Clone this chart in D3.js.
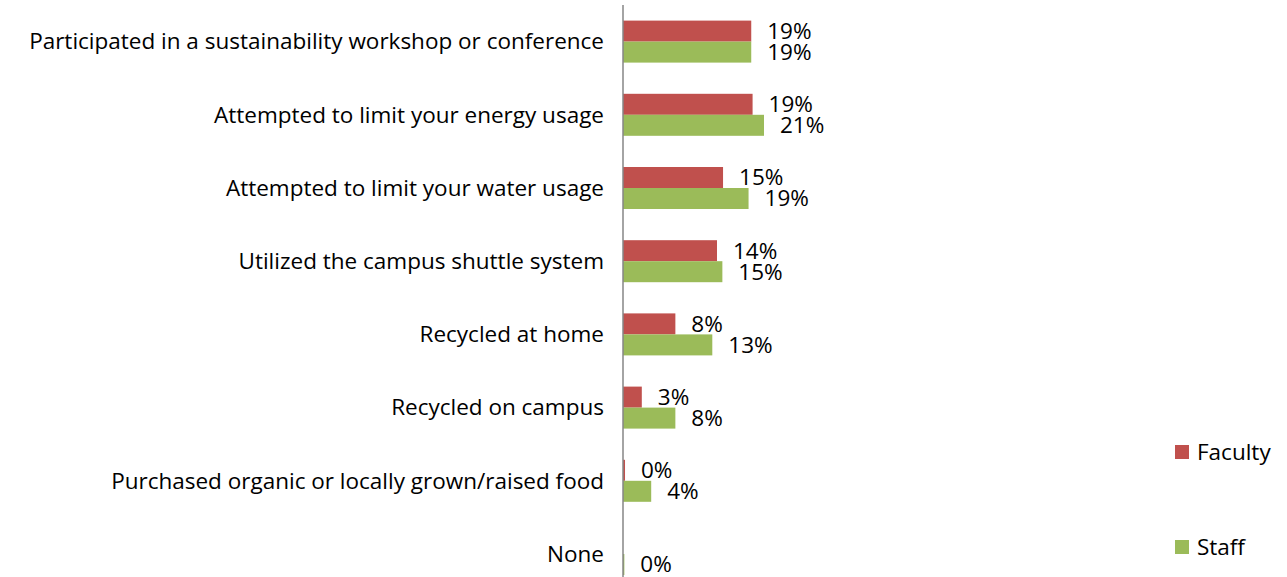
<!DOCTYPE html>
<html>
<head>
<meta charset="utf-8">
<script src="https://cdn.jsdelivr.net/npm/d3@7"></script>
<style>
  body { margin: 0; background: #fff; }
  text { font-family: "Open Sans", sans-serif; fill: #000; }
</style>
</head>
<body>
<div id="chart"></div>
<script>
var width = 1287,
    height = 577;

// categories, top to bottom
var categories = [
  "Participated in a sustainability workshop or conference",
  "Attempted to limit your energy usage",
  "Attempted to limit your water usage",
  "Utilized the campus shuttle system",
  "Recycled at home",
  "Recycled on campus",
  "Purchased organic or locally grown/raised food",
  "None"
];
var faculty = [19.1, 19.3, 14.9, 14.0, 7.8, 2.8, 0.3, 0];
var staff   = [19.1, 21.0, 18.7, 14.8, 13.3, 7.8, 4.2, 0.2];
var facultyLabels = ["19%", "19%", "15%", "14%", "8%", "3%", "0%", ""];
var staffLabels   = ["19%", "21%", "19%", "15%", "13%", "8%", "4%", "0%"];
var seriesNames = ["Faculty", "Staff"];
var colors = ["#C0504D", "#9BBB59"];

var axisX = 623;
var fontSize = "22.5px";

var svg = d3.select('#chart').append('svg')
    .attr('width', width)
    .attr('height', height);

// scales
let scaleX = d3.scaleLinear().domain([0, 21]).range([axisX, axisX + 141]);
let scaleY = d3.scaleBand().domain(categories).range([5, 5 + 73.2 * 8]);
let barH = 21;

let rows = categories.map((c, i) => ({
    cat: c, f: faculty[i], s: staff[i], fl: facultyLabels[i], sl: staffLabels[i]
}));

// category labels
svg.selectAll(".catLabel").data(rows).enter()
  .append("text")
    .attr("class", "catLabel")
    .attr("x", axisX - 19)
    .attr("y", d => scaleY(d.cat) + scaleY.bandwidth() / 2)
    .attr("dy", "0.35em")
    .attr("text-anchor", "end")
    .style("font-size", fontSize)
    .text(d => d.cat);

// faculty bars
svg.selectAll(".fBar").data(rows).enter()
  .append("rect")
    .attr("class", "fBar")
    .attr("x", axisX)
    .attr("y", d => scaleY(d.cat) + scaleY.bandwidth() / 2 - barH)
    .attr("width", d => scaleX(d.f) - axisX)
    .attr("height", barH)
    .attr("fill", colors[0]);

// staff bars
svg.selectAll(".sBar").data(rows).enter()
  .append("rect")
    .attr("class", "sBar")
    .attr("x", axisX)
    .attr("y", d => scaleY(d.cat) + scaleY.bandwidth() / 2)
    .attr("width", d => scaleX(d.s) - axisX)
    .attr("height", barH)
    .attr("fill", colors[1]);

// value labels
svg.selectAll(".fLabel").data(rows).enter()
  .append("text")
    .attr("class", "fLabel")
    .attr("x", d => scaleX(d.f) + 16)
    .attr("y", d => scaleY(d.cat) + scaleY.bandwidth() / 2 - barH / 2)
    .attr("dy", "0.35em")
    .style("font-size", fontSize)
    .text(d => d.fl);

svg.selectAll(".sLabel").data(rows).enter()
  .append("text")
    .attr("class", "sLabel")
    .attr("x", d => scaleX(d.s) + 16)
    .attr("y", d => scaleY(d.cat) + scaleY.bandwidth() / 2 + barH / 2)
    .attr("dy", "0.35em")
    .style("font-size", fontSize)
    .text(d => d.sl);

// vertical axis line
svg.append("line")
    .attr("x1", axisX).attr("x2", axisX)
    .attr("y1", 5).attr("y2", height)
    .attr("stroke", "#868686")
    .attr("stroke-width", 1.5);

// legend
let legend = svg.selectAll(".legend").data(seriesNames).enter()
  .append("g")
    .attr("class", "legend")
    .attr("transform", (d, i) => "translate(1175," + (445 + 95 * i) + ")");
legend.append("rect")
    .attr("width", 14).attr("height", 14)
    .attr("fill", (d, i) => colors[i]);
legend.append("text")
    .attr("x", 22).attr("y", 7)
    .attr("dy", "0.35em")
    .style("font-size", fontSize)
    .text(d => d);
</script>
</body>
</html>
